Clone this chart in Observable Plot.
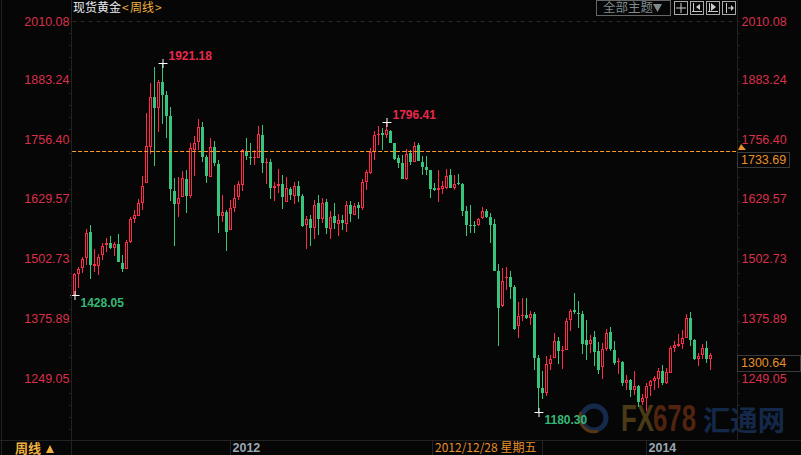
<!DOCTYPE html>
<html>
<head>
<meta charset="utf-8">
<style>
html,body{margin:0;padding:0;background:#060606;overflow:hidden}
svg{display:block}
</style>
<script src="https://cdn.jsdelivr.net/npm/d3@7"></script>
<script src="https://cdn.jsdelivr.net/npm/@observablehq/plot@0.6"></script>
</head>
<body>
<div id="chart"></div>
<script>
const high = [1476,1488.7,1510,1568.8,1577.3,1525.6,1515,1538.4,1550.3,1553.9,
1541.2,1558.1,1513.6,1545.4,1594.2,1609.1,1631.8,1681.3,1814.4,1878.7,
1912.7,1885.1,1921.18,1861.7,1827.8,1677,1679.2,1691.9,1694,1750.7,
1765.6,1802.3,1795.3,1725.9,1762,1755.6,1715.2,1641,1609.1,1630.3,
1662.2,1670.7,1738.6,1762,1751.3,1736.5,1787.4,1789.5,1719.5,1717.4,
1668.5,1696.1,1683.4,1679.2,1657.9,1668.5,1670.7,1643.1,1596.4,1598.5,
1630.3,1641,1634.6,1632.5,1607,1624,1600.6,1598.5,1628.2,1628.2,
1624,1626.1,1674.9,1694,1740.7,1776.8,1787.4,1783.2,1796.41,1778.9,
1751.3,1725.9,1725.9,1738.6,1736.5,1753.5,1751.3,1723.7,1723.7,1694,
1666.4,1694,1670.7,1696.1,1696.1,1683.4,1685.5,1666.4,1617.6,1619.7,
1585.8,1592.1,1615.5,1611.2,1602.7,1590,1494.4,1486,1488.1,1479.6,
1449.9,1413.8,1422.3,1422.3,1394.7,1392.6,1301.3,1267.3,1299.1,1301.3,
1348,1339.5,1320.4,1379.8,1398.9,1432.9,1415.9,1394.7,1375.6,1343.7,
1352.2,1328.9,1326.7,1356.4,1360.7,1331,1294.9,1288.5,1258.8,1250.3,
1267.3,1237.6,1218.5,1241.8,1248.2,1256.7,1273.6,1280,1273.6,1320.4,
1331,1345.8,1354.3,1388.3,1392.6,1335.2,1305.5,1324.6,1331,1305.5];
const low = [1428.05,1443.5,1476,1492.3,1463.3,1477.5,1471.7,1502.9,1519.9,1526.3,
1511.4,1498.7,1477.5,1483.8,1539,1581.5,1596.4,1609.1,1666.4,1728,
1702.5,1774.7,1791.7,1762,1628.2,1532.7,1594.2,1636.7,1602.7,1635.2,
1681.3,1736.5,1711.6,1666.4,1679.2,1702.5,1560.3,1583.6,1522.1,1566.6,
1604.9,1630.3,1649.4,1715.2,1704.6,1704.6,1719.5,1687.6,1664.3,1632.5,
1628.2,1645.2,1611.2,1626.1,1630.3,1621.8,1626.1,1573,1526.3,1532.7,
1547.5,1556,1581.5,1558.1,1547.5,1568.8,1553.9,1566.6,1562.4,1583.6,
1598.5,1590,1609.1,1651.6,1685.5,1715.2,1747.1,1736.5,1762,1751.3,
1715.2,1698.3,1674.9,1672.8,1704.6,1711,1713.1,1683.4,1683.4,1634.6,
1649.4,1626.1,1643.1,1653.7,1655.8,1651.6,1662.2,1596.4,1553.9,1560.3,
1560.3,1575.1,1590,1592.1,1539,1479.6,1320.4,1403.2,1439.3,1420.2,
1354.3,1337.4,1373.4,1377.7,1365,1269.4,1180.3,1207.8,1214.2,1269.4,
1294.9,1282.1,1271.5,1311.9,1352.2,1388.3,1358.6,1303.4,1290.6,1305.5,
1277.9,1260.9,1250.3,1309.8,1309.8,1280,1260.9,1235.4,1227,1212.1,
1216.4,1190.9,1195.2,1182.4,1214.2,1227,1231.2,1237.6,1239.7,1263,
1307.6,1318.2,1314,1337.4,1320.4,1290.6,1277.9,1292.8,1284.3,1269.4];
const open = [1428.05,1473.2,1485.3,1507.8,1562.4,1490.2,1490.8,1512.9,1534.8,1539,
1529.1,1536.9,1496.6,1483.8,1541.2,1590,1596.4,1624,1666.4,1742.8,
1849,1825.6,1880.8,1853.2,1808.6,1649.4,1621.8,1636.7,1674.9,1639.5,
1737.1,1752.8,1784.7,1721.6,1679.8,1742.8,1706.8,1596.4,1604.9,1566.6,
1613.3,1636.7,1662.2,1734.4,1721.6,1719.5,1720,1768.3,1708.9,1711,
1655.8,1660,1664.3,1626.1,1653.7,1638.8,1660,1638.8,1577.3,1590,
1570.9,1624,1590,1626.1,1568.8,1596.4,1579.4,1587.9,1579.4,1619.7,
1598.5,1619.7,1613.3,1668.5,1687.6,1732.2,1768.3,1772.6,1768.3,1776.8,
1751.3,1719.5,1708.9,1674.9,1730.1,1711,1747.1,1711,1700.4,1694,
1655.8,1651.6,1653.7,1655.8,1683.4,1655.8,1666.4,1664.3,1606.9,1577.3,
1577.3,1577.3,1592.1,1606.9,1594.2,1579.4,1479.6,1405.3,1464.7,1466.9,
1445.6,1362.8,1384.1,1386.2,1379.8,1388.3,1294.9,1231.2,1220.6,1282.1,
1294.9,1331,1309.8,1311.9,1375.6,1396.8,1390.4,1388.3,1333.1,1324.6,
1339.5,1309.8,1275.8,1314,1350.1,1311.9,1286.4,1286.4,1241.8,1248.2,
1227,1235.4,1201.5,1210,1235.4,1246,1250.3,1267.3,1241.8,1263,
1316.1,1320.4,1324.6,1337.4,1379.8,1333.1,1292.8,1301.3,1316.1,1292.8];
const close = [1473.2,1483.2,1505,1560.3,1493,1494.4,1509.3,1532.7,1539,1528.4,
1536.3,1498.7,1483.8,1541.2,1590,1598.5,1623.3,1660,1745,1849,
1825.6,1880.8,1853.2,1808.6,1653.7,1621.8,1634.6,1677,1638.8,1740.7,
1751.3,1784.7,1721.6,1681.3,1742.2,1708.9,1596.4,1604.9,1562.4,1613.3,
1634.6,1664.3,1736.5,1723.7,1719.5,1721.6,1770.4,1708.9,1711,1655.8,
1660,1664.3,1636.7,1655.8,1641,1660,1638.8,1575.1,1590,1570.9,
1619.7,1590,1624,1570.9,1594.2,1581.5,1587.9,1581.5,1619.7,1600.6,
1617.6,1613.3,1668.5,1689.8,1732.2,1768.3,1770.4,1768.3,1778.9,1751.3,
1717.4,1708.9,1674.9,1728,1711,1745,1713.1,1700.4,1694,1653.7,
1651.6,1655.8,1660,1681.3,1655.8,1664.3,1664.3,1606.9,1577.3,1575.1,
1575.1,1590,1606.9,1594.2,1577.3,1479.6,1401,1458.4,1466.9,1445.6,
1356.4,1384.1,1386.2,1379.8,1388.3,1294.9,1231.2,1220.6,1282.1,1292.8,
1331,1309.8,1311.9,1373.4,1394.7,1392.6,1388.3,1324.6,1322.5,1333.1,
1307.6,1269.4,1314,1348,1314,1284.3,1288.5,1241.8,1248.2,1227,
1235.4,1201.5,1210,1235.4,1246,1252.4,1267.3,1241.8,1265.2,1316.1,
1322.5,1324.6,1337.4,1379.8,1333.1,1292.8,1299.1,1316.1,1292.8,1300.64];

const priceTicks = [2010.08,1883.24,1756.40,1629.57,1502.73,1375.89,1249.05];
const highMarks = [{i:22,price:1921.18,label:"1921.18"},{i:78,price:1796.41,label:"1796.41"}];
const lowMarks = [{i:0,price:1428.05,label:"1428.05"},{i:116,price:1180.30,label:"1180.30"}];
const yearTicks = [{i:39,label:"2012"},{i:143,label:"2014"}];
const lastPrice = 1300.64, refPrice = 1733.69;

const RED = "#ff2b4b", GREEN = "#38c47c", BG = "#060606", BAND = 0.375;
const rows = high.map((h,k)=>({i:k,high:h,low:low[k],open:open[k],close:close[k],
  top:Math.max(open[k],close[k]),bot:Math.min(open[k],close[k]),up:close[k]>=open[k]}));
const ups = rows.filter(d=>d.up), downs = rows.filter(d=>!d.up);
const hollow = ups.filter(d=>d.top-d.bot>4.3);
const priceText = p=>p.toFixed(2);
const font = "'Liberation Sans',Arial,sans-serif";
const cjk = "'Noto Sans CJK SC','Liberation Sans',sans-serif";

const wick = (data,color)=>Plot.rect(data,{x1:d=>d.i-0.125,x2:d=>d.i+0.125,y1:"low",y2:"high",fill:color});
const body = (data,color)=>Plot.rect(data,{x1:d=>d.i-BAND,x2:d=>d.i+BAND,y1:"bot",y2:"top",fill:color});
const extremeText = (data,color,dy)=>Plot.text(data,{x:"i",y:"price",text:"label",fill:color,dx:5.5,dy,textAnchor:"start",
  fontFamily:font,fontWeight:"bold",fontSize:12});
const axisText = (data,dx,anchor,dy)=>Plot.text(data,{y:d=>d,text:priceText,frameAnchor:"left",dx,dy,textAnchor:anchor,
  fill:"#d9304a",fontFamily:font,fontSize:12.5});

const chart = Plot.plot({
  width:801,height:455,margin:0,
  style:{background:BG,overflow:"hidden"},
  x:{type:"linear",domain:[0,159],range:[74.5,710.5],axis:null},
  y:{type:"linear",domain:[2054.93,1088.97],range:[0,455],round:true,axis:null},
  marks:[
    Plot.ruleY([2010.08],{x1:-0.5,x2:165,stroke:"#2a2a2a",strokeDasharray:"4,4"}),
    wick(ups,RED),wick(downs,GREEN),
    body(ups,RED),body(downs,GREEN),
    Plot.rect(hollow,{x1:d=>d.i-0.125,x2:d=>d.i+0.125,y1:"bot",y2:"top",fill:BG,insetTop:1,insetBottom:1}),
    Plot.ruleY([refPrice],{x1:-0.6,x2:165.6,stroke:"#ff9a2e",strokeWidth:1,strokeDasharray:"4,2"}),
    Plot.dot(highMarks.concat(lowMarks),{x:"i",y:"price",symbol:"plus",r:3,stroke:"#fff",strokeWidth:1}),
    extremeText(highMarks,"#e8294c",-7.5),
    extremeText(lowMarks,"#35b877",7.5),
    axisText(priceTicks.slice(0,1),69,"end",0),
    axisText(priceTicks.slice(1),69,"end",-1.5),
    axisText(priceTicks.slice(0,1),741,"start",0),
    axisText(priceTicks.slice(1),741,"start",-1.5)
  ]
});
document.getElementById("chart").appendChild(chart);

// window chrome around the plot
const svg = d3.select(chart);
const line=(x1,y1,x2,y2,c="#222")=>svg.append("line").attr("x1",x1).attr("y1",y1).attr("x2",x2).attr("y2",y2).attr("stroke",c);
const label=(x,y,t,c,size,fam=cjk,extra={})=>{const e=svg.append("text").attr("x",x).attr("y",y).text(t).attr("fill",c)
  .attr("font-size",size).attr("font-family",fam).attr("dominant-baseline","middle").attr("text-anchor","start");
  Object.entries(extra).forEach(([k,v])=>e.attr(k,v));return e;};
const tri=(pts,c="#ccc")=>svg.append("polygon").attr("points",pts).attr("fill",c);

line(1.5,0,1.5,455); line(71.5,0,71.5,455); line(737.5,0,737.5,440);
line(0,440.5,801,440.5); line(230.5,440,230.5,455); line(646.5,440,646.5,455);
line(432.5,440,432.5,455); line(542.5,440,542.5,455);
d3.range(21,440,12).forEach(y=>{line(69,y+.5,72,y+.5); line(737,y+.5,740,y+.5);});

label(73,9,"现货黄金","#e8eef5",12);
label(122,9,"<","#e7b040",12);
label(130,9,"周线","#f0b040",12);
label(155,9,">","#e7b040",12);

svg.append("rect").attr("x",596.5).attr("y",0.5).attr("width",74).attr("height",15).attr("fill","none").attr("stroke","#666");
label(603,8.5,"全部主题","#7f8a8f",12.5);
tri("653,4 662,4 657.5,12","#7f8a8f");
[674,690,706,722].forEach((x,k)=>{
  svg.append("rect").attr("x",x+.5).attr("y",1.5).attr("width",13).attr("height",13).attr("fill","none").attr("stroke","#aaa");
  if(k==0){line(x+7,3,x+7,13,"#ccc");line(x+2,8,x+12,8,"#ccc");}
  if(k==1){line(x+3.5,3,x+3.5,12,"#ccc");line(x+2,11.5,x+12,11.5,"#ccc");tri(`${x+6},7 ${x+10},4 ${x+10},10`);}
  if(k==2){line(x+3.5,3,x+3.5,12,"#ccc");line(x+2,11.5,x+12,11.5,"#ccc");tri(`${x+10},7 ${x+5},3 ${x+5},11`);}
  if(k==3){line(x+4.5,3,x+4.5,13,"#ccc");line(x+6,8,x+9,8,"#ccc");tri(`${x+12},8 ${x+9},5 ${x+9},11`);}
});

// price flags
const box=(y,h,w)=>svg.append("rect").attr("x",737.5).attr("y",y).attr("width",w).attr("height",h).attr("fill",BG).attr("stroke","#3a3a3a");
box(152.5,15,52); label(741,160.5,priceText(refPrice),"#e88f2a",12.5,font);
box(355.5,16,63); label(741,364,priceText(lastPrice),"#e88f2a",12.5,font);
tri("741,144 746,150 738,150","#e88f2a");

// bottom strip
label(15,449.5,"周线","#f0b040",13,cjk,{"font-weight":"bold"});
tri("46,453 54,453 50,445","#f0b040");
yearTicks.forEach(t=>label(t.i*4+74.5+2,449,t.label,"#9aa6b2",12.5,font,{"font-weight":"bold"}));
label(435,449,"2012/12/28 星期五","#e88f2a",12);

// watermark, behind the candles
const wm = svg.insert("g","g");
const wt=(x,w,t,c,fs,fam)=>wm.append("text").attr("x",x).attr("y",431).text(t).attr("fill",c).attr("font-size",fs)
  .attr("text-anchor","start").attr("font-family",fam).attr("font-weight","bold").attr("textLength",w).attr("lengthAdjust","spacingAndGlyphs");
wt(621,33,"FX","#4a3a16",36,font); wt(653,43,"678","#50240e",36,font);
wt(703,82,"汇通网","#14294a",28,cjk);
wm.append("circle").attr("cx",594).attr("cy",418).attr("r",12).attr("fill","none").attr("stroke","#152a4a").attr("stroke-width",5);
wm.append("path").attr("d","M581 412 A14 14 0 0 0 598 431").attr("fill","none").attr("stroke","#5a3514").attr("stroke-width",3);
</script>
</body>
</html>
